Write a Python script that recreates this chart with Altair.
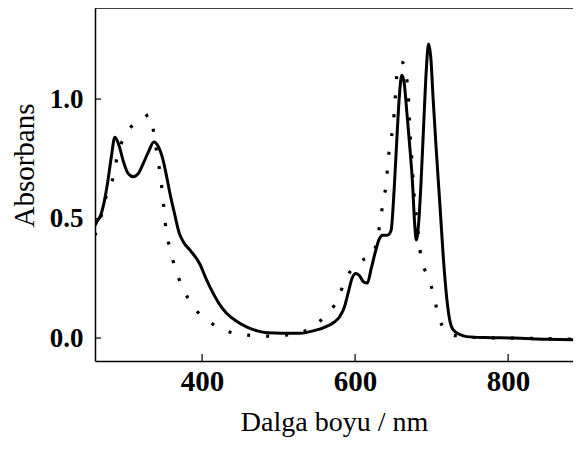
import altair as alt
import pandas as pd

# Solid spectrum (wavelength nm, absorbance)
solid_nm = [259, 263, 267, 272, 276, 281, 286, 291, 297, 303, 310, 317, 323, 330, 337, 343,
            349, 354, 358, 364, 370, 376, 385, 397, 405, 414, 423, 432, 445, 458, 472, 485,
            505, 528, 545, 560, 572, 580, 586, 591, 596, 601, 606, 611, 616, 621, 626, 631,
            636, 642, 647, 651, 655, 658, 661, 664, 668, 672, 675, 678, 680, 683, 686, 690,
            693, 696, 699, 702, 706, 711, 715, 720, 724, 728, 737, 746, 770, 807, 850, 895]
solid_abs = [0.465, 0.49, 0.51, 0.57, 0.64, 0.75, 0.84, 0.81, 0.74, 0.69, 0.675, 0.69, 0.73, 0.78, 0.82, 0.80,
             0.745, 0.67, 0.605, 0.52, 0.44, 0.40, 0.365, 0.31, 0.25, 0.19, 0.14, 0.104, 0.07, 0.047, 0.03, 0.022,
             0.02, 0.02, 0.03, 0.045, 0.065, 0.09, 0.13, 0.19, 0.25, 0.27, 0.26, 0.235, 0.23, 0.29, 0.355, 0.41,
             0.43, 0.43, 0.45, 0.62, 0.86, 1.02, 1.10, 1.07, 0.93, 0.78, 0.65, 0.47, 0.41, 0.48, 0.64, 0.92,
             1.12, 1.23, 1.17, 1.0, 0.79, 0.55, 0.35, 0.16, 0.07, 0.035, 0.015, 0.006, 0.002, 0.0, -0.005, -0.008]

# Dotted spectrum
dotted_nm = [260, 265, 269, 276, 284, 289, 298, 306, 315, 323, 331, 337, 341, 345, 348, 353,
             358, 365, 374, 388, 400, 412, 436, 460, 485, 508, 537, 558, 578, 587, 601, 612,
             622, 628, 633, 637, 641, 643, 646, 650, 652, 656, 660, 663, 668, 670, 672, 674,
             677, 681, 686, 694, 702, 708, 714, 722, 735, 760, 800, 895]
dotted_abs = [0.43, 0.48, 0.52, 0.61, 0.675, 0.76, 0.84, 0.88, 0.90, 0.92, 0.935, 0.855, 0.77, 0.69, 0.61, 0.45,
              0.375, 0.29, 0.215, 0.134, 0.09, 0.062, 0.025, 0.012, 0.008, 0.012, 0.033, 0.083, 0.167, 0.243, 0.305, 0.33,
              0.34, 0.40, 0.49, 0.58, 0.655, 0.74, 0.815, 0.9, 0.985, 1.14, 1.155, 1.15, 1.07, 0.99, 0.85, 0.755,
              0.6, 0.485, 0.34, 0.264, 0.19, 0.104, 0.05, 0.02, 0.008, 0.002, 0.0, -0.005]

x_ticks = [400, 600, 800]
y_ticks = [0.0, 0.5, 1.0]

solid = pd.DataFrame({"nm": solid_nm, "A": solid_abs})
dotted = pd.DataFrame({"nm": dotted_nm, "A": dotted_abs})
xt = pd.DataFrame({"nm": x_ticks})
yt = pd.DataFrame({"A": y_ticks})
top = pd.DataFrame({"k": [0]})

W, H = 478, 353
xs = alt.Scale(domain=[260, 884.8], nice=False, zero=False)
ys = alt.Scale(domain=[-0.096, 1.381], nice=False, zero=False)

xaxis = alt.Axis(values=x_ticks, title="Dalga boyu / nm", format="d", ticks=False,
                 labelPadding=6, titlePadding=12, labelFontSize=29, titleFontSize=28)
yaxis = alt.Axis(values=y_ticks, title="Absorbans", format=".1f", ticks=False,
                 labelPadding=12, labelFontSize=27, titleFontSize=29,
                 titleX=-62, titleY=157, titleAngle=270, titleAlign="center",
                 titleBaseline="alphabetic")

solid_line = alt.Chart(solid).mark_line(color="black", strokeWidth=3, interpolate="monotone", clip=True).encode(
    x=alt.X("nm:Q", scale=xs, axis=xaxis),
    y=alt.Y("A:Q", scale=ys, axis=yaxis),
)

dotted_line = alt.Chart(dotted).mark_line(color="black", strokeWidth=3.2, strokeDash=[3, 16],
                                          strokeCap="butt", interpolate="monotone", clip=True).encode(
    x=alt.X("nm:Q", scale=xs),
    y=alt.Y("A:Q", scale=ys),
)

xtick_marks = alt.Chart(xt).mark_rule(color="black", strokeWidth=1.2).encode(
    x=alt.X("nm:Q", scale=xs), y=alt.value(H), y2=alt.value(H - 7)
)
ytick_marks = alt.Chart(yt).mark_rule(color="black", strokeWidth=1.2).encode(
    y=alt.Y("A:Q", scale=ys), x=alt.value(0), x2=alt.value(6)
)
top_border = alt.Chart(top).mark_rule(color="black", strokeWidth=1.5).encode(y=alt.value(0))

chart = alt.layer(solid_line, dotted_line, xtick_marks, ytick_marks, top_border).properties(
    width=W, height=H,
    background="white",
    autosize=alt.AutoSizeParams(type="none"),
    padding={"left": 87, "top": 0, "right": 0, "bottom": 80},
).configure_view(stroke=None).configure_axis(
    grid=False,
    domainColor="black",
    domainWidth=1.5,
    labelFont="Liberation Serif",
    labelFontWeight="bold",
    labelColor="black",
    titleFont="Liberation Serif",
    titleFontWeight="normal",
    titleColor="black",
)

chart.save("out.html", embed_options={"renderer": "svg", "actions": False})
